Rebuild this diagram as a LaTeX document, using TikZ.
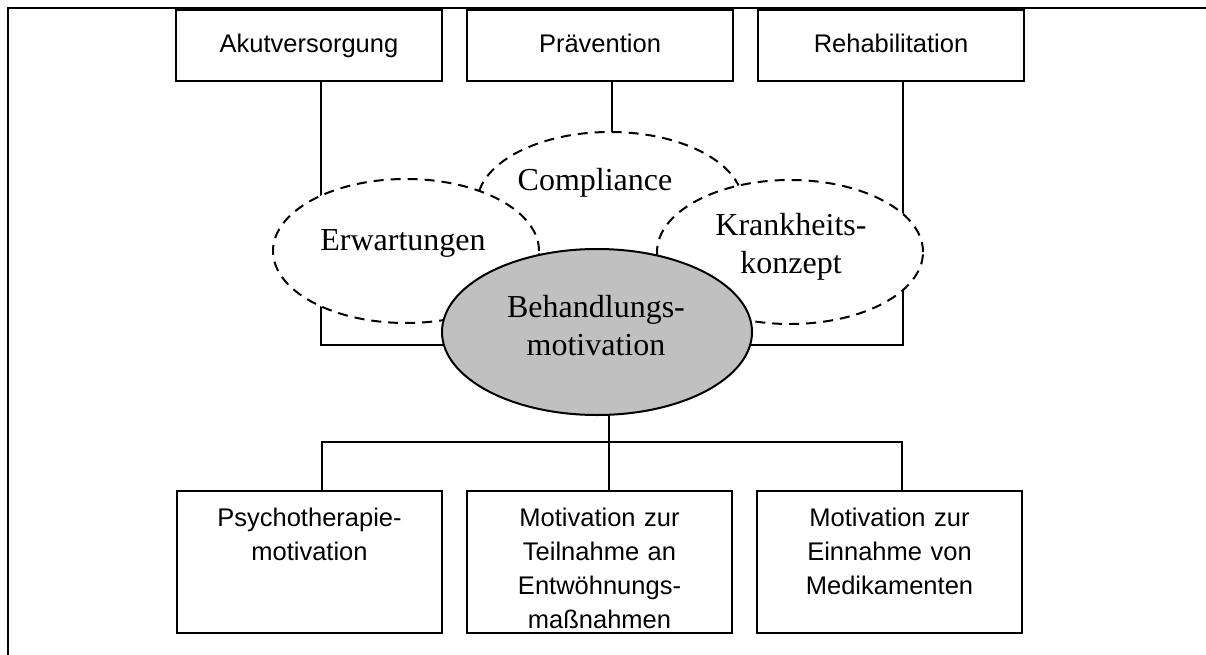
\documentclass[tikz,border=0pt]{standalone}
\usepackage{fontspec}
\setmainfont{Liberation Serif}
\setsansfont{Liberation Sans}
\usepackage{xcolor}
\usetikzlibrary{positioning,shapes.geometric,backgrounds}
\definecolor{coregray}{RGB}{192,192,192}

\begin{document}
\begin{tikzpicture}[
  x=1pt, y=1pt,
  node distance=23pt,
  topbox/.style={rectangle, draw, line width=2pt, minimum width=266pt, minimum height=71pt, inner sep=0pt, text height=19pt, text depth=5pt, font=\sffamily\fontsize{25.5}{30}\selectfont},
  lowbox/.style={rectangle, draw, line width=2pt, text width=255pt, inner xsep=5pt, inner ysep=17pt, text depth=90pt, align=center, anchor=north, font=\sffamily\fontsize{25.5}{34}\selectfont},
  dashell/.style={ellipse, draw, fill=white, line width=2pt, dash pattern=on 10pt off 7pt, minimum width=266pt, minimum height=144pt, inner sep=0pt},
  coreell/.style={ellipse, draw, fill=coregray, line width=2pt, minimum width=310pt, minimum height=166pt, inner sep=0pt},
  inlabel/.style={align=center, inner sep=0pt, font=\fontsize{32}{38}\selectfont},
  link/.style={line width=2pt},
]
  \useasboundingbox (0,0) rectangle (1206,-655);
  % frame
  \draw[line width=1.4pt] (8,-655) -- (8,-8) -- (1206,-8);

  % areas of care
  \node[topbox] (akut) at (309,-45.5) {Akutversorgung};
  \node[topbox, right=of akut] (praev) {Prävention};
  \node[topbox, right=of praev] (rehab) {Rehabilitation};

  % influencing factors
  \node[dashell] (compl) at (610,-204) {};
  \node[dashell] (erw) at (406,-251) {};
  \node[dashell] (krank) at (790,-252) {};
  \node[coreell] (behandl) at (597,-332) {};
  \node[inlabel] (compltext) at (595,-183) {Compliance};
  \node[inlabel] (erwtext) at (403,-243) {Erwartungen};
  \node[inlabel] (kranktext) at (791,-247) {Krankheits-\\konzept};
  \node[inlabel] (behandltext) at (596,-326) {Behandlungs-\\motivation};

  % specific motivations
  \node[lowbox] (psych) at (309.5,-490) {Psychotherapie-\\motivation};
  \node[lowbox, right=of psych] (entw) {Motivation zur\\Teilnahme an\\Entwöhnungs-\\maßnahmen};
  \node[lowbox, right=of entw] (medik) {Motivation zur\\Einnahme von\\Medikamenten};

  \begin{scope}[on background layer]
    \draw[link] ([xshift=12pt]akut.south) |- ([yshift=-13pt]behandl.center);
    \draw[link] ([xshift=12pt]rehab.south) |- ([yshift=-13pt]behandl.center);
    \draw[link] ([xshift=12pt]praev.south) -- ([xshift=12pt]praev.south |- compl.center);
    \draw[link] ([xshift=12pt]behandl.center) -- ([xshift=12pt]behandl.center |- entw.north);
    \draw[link] ([xshift=12pt]psych.north) |- ([xshift=12pt,yshift=48pt]behandl.center |- entw.north) -| ([xshift=12pt]medik.north);
  \end{scope}
\end{tikzpicture}
\end{document}
